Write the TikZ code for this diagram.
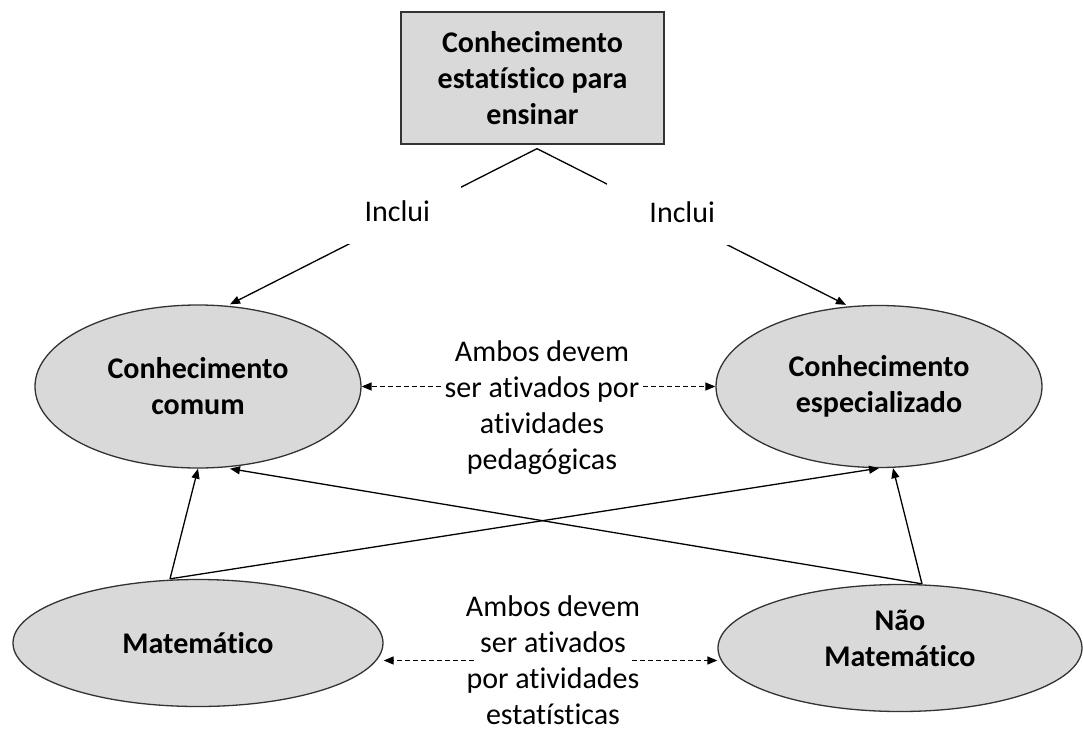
\documentclass[tikz,border=0pt]{standalone}
\usepackage{fontspec}
\setmainfont{Carlito}[Ligatures=NoCommon]
\usetikzlibrary{arrows.meta,shapes.geometric,positioning}
\tikzset{
    every picture/.style={
        line width=1.3pt,>={Triangle[length=10pt,width=8pt]},on grid,
        every node/.style={font=\fontsize{30}{36}\selectfont,align=center},
        concept/.style={draw=black!80,fill=black!15,inner sep=0pt,
            font=\bfseries\fontsize{30}{36}\selectfont},
        area/.style={concept,ellipse},
        gap/.style={fill=white,minimum width=128pt,minimum height=66pt},
        both/.style={->,dash pattern=on 5pt off 3pt}
    }
}

\begin{document}
\begin{tikzpicture}
    \useasboundingbox (-532.5pt,78pt) rectangle (550.5pt,-653pt);
    \node[concept,minimum width=263pt,minimum height=132pt] (0) {Conhecimento\\estatístico para\\ensinar};
    \node[area,minimum width=326pt,minimum height=163pt] (1) [below left=308.5pt and 334.5pt of 0] {Conhecimento\\comum};
    \node[area,minimum width=326pt,minimum height=162pt] (2) [below right=308.5pt and 346.5pt of 0] {Conhecimento\\especializado};
    \node (3) [below=329.5pt of 0,xshift=9.5pt] {Ambos devem\\ser ativados por\\atividades\\pedagógicas};
    \node[area,minimum width=370pt,minimum height=127pt] (4) [below=256.5pt of 1] {Matemático};
    \node[area,minimum width=364pt,minimum height=127pt,text depth=19pt] (5) [below right=261.5pt and 21pt of 2] {Não\\Matemático};
    \node (6) [below=253pt of 3,xshift=11pt] {Ambos devem\\ser ativados\\por atividades\\estatísticas};
    \coordinate (top) at ([xshift=4.5pt,yshift=-4pt]0.south);
    \path[->](top) edge node[gap,pos=.455,yshift=8pt] (7) {Inclui} ([xshift=32pt]1.north)
             (top) edge node[gap,pos=.47,yshift=10pt,minimum width=150pt] (8) {Inclui} ([xshift=-33pt]2.north)
             ([xshift=-28pt]4.north) edge (1.south)
                                     edge (2.south)
             ([xshift=22pt]5.north)  edge ([xshift=14pt]2.south)
                                     edge ([xshift=32pt]1.south);
    \path[both](3.west |- 1.east) edge (1.east)
               (3.east |- 2.west) edge (2.west)
               ([xshift=12pt]6.west) edge (6.west -| 4.east)
               ([xshift=-12pt]6.east) edge (6.east -| 5.west);
\end{tikzpicture}
\end{document}
